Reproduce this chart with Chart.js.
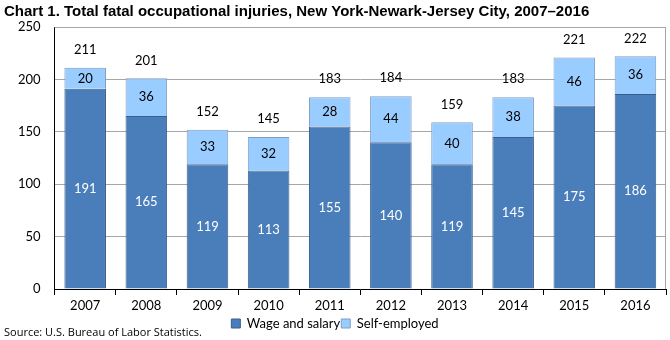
<!DOCTYPE html>
<html><head><meta charset="utf-8">
<script src="https://cdn.jsdelivr.net/npm/chart.js@4"></script>
<style>html,body{margin:0;padding:0;background:#fff}#wrap{width:670px;height:340px;position:relative}</style>
</head><body><div id="wrap"><canvas id="c" width="670" height="340"></canvas></div>
<script>
const years = ['2007','2008','2009','2010','2011','2012','2013','2014','2015','2016'];
const wageAndSalary = [191,165,119,113,155,140,119,145,175,186];
const selfEmployed = [20,36,33,32,28,44,40,38,46,36];
const totals = [211,201,152,145,183,184,159,183,221,222];
const yTicks = [0,50,100,150,200,250];

const labelFont = '13px Lato, "Open Sans", sans-serif';

const labelPlugin = {
  id: 'labels',
  afterDatasetsDraw(chart) {
    const ctx = chart.ctx;
    ctx.save();
    ctx.font = labelFont;
    ctx.textAlign = 'center';
    ctx.textBaseline = 'middle';
    const m0 = chart.getDatasetMeta(0).data;
    const m1 = chart.getDatasetMeta(1).data;
    m0.forEach((b, i) => {
      ctx.fillStyle = '#ffffff';
      ctx.fillText(String(wageAndSalary[i]), b.x, (b.y + b.base) / 2);
    });
    m1.forEach((b, i) => {
      ctx.fillStyle = '#000000';
      ctx.fillText(String(selfEmployed[i]), b.x, (b.y + b.base) / 2);
      ctx.fillText(String(totals[i]), b.x, chart.scales.y.getPixelForValue(totals[i]) - 18);
    });
    ctx.restore();
  },
  beforeDatasetsDraw(chart) {
    const a = chart.chartArea, ctx = chart.ctx;
    ctx.save();
    ctx.strokeStyle = '#a6a6a6';
    ctx.lineWidth = 1;
    ctx.beginPath();
    ctx.moveTo(a.left, a.top + 0.5);
    ctx.lineTo(a.right - 0.5, a.top + 0.5);
    ctx.lineTo(a.right - 0.5, a.bottom);
    ctx.stroke();
    ctx.restore();
  },
  afterDraw(chart) {
    const ctx = chart.ctx;
    ctx.save();
    ctx.font = '11px "Open Sans", sans-serif';
    ctx.fillStyle = '#000';
    ctx.textBaseline = 'middle';
    ctx.textAlign = 'left';
    ctx.fillText('Source: U.S. Bureau of Labor Statistics.', 4, 333);
    ctx.restore();
  }
};

new Chart(document.getElementById('c'), {
  type: 'bar',
  data: {
    labels: years,
    datasets: [
      { label: 'Wage and salary', data: wageAndSalary, backgroundColor: '#4A7EBB', borderColor: '#3A5F8C', borderWidth: 1, barPercentage: 0.68, categoryPercentage: 1 },
      { label: 'Self-employed', data: selfEmployed, backgroundColor: '#99CCFF', borderColor: '#7F9CC2', borderWidth: 1, barPercentage: 0.68, categoryPercentage: 1 }
    ]
  },
  plugins: [labelPlugin],
  options: {
    responsive: false,
    animation: false,
    devicePixelRatio: 1,
    layout: { padding: { left: 4, right: 4, top: 2, bottom: 0 } },
    plugins: {
      title: { display: true, text: 'Chart 1. Total fatal occupational injuries, New York-Newark-Jersey City, 2007–2016', align: 'start', color: '#000', font: { family: '"Liberation Sans", Arial, sans-serif', size: 15, weight: 'bold' }, padding: { top: 1, bottom: 6 } },
      legend: { position: 'bottom', labels: { boxWidth: 9, boxHeight: 9, color: '#000', font: { family: 'Lato, "Open Sans", sans-serif', size: 13 }, padding: 1 } },
      tooltip: { enabled: false }
    },
    scales: {
      x: {
        stacked: true,
        grid: { display: true, offset: true, drawOnChartArea: false, tickLength: 6, color: '#000' },
        border: { color: '#000' },
        ticks: { color: '#000', font: { family: 'Lato, "Open Sans", sans-serif', size: 13, lineHeight: 1 }, padding: 4 }
      },
      y: {
        stacked: true,
        min: 0, max: 250,
        afterBuildTicks(s) { s.ticks = yTicks.map(v => ({ value: v })); },
        grid: { color: '#a6a6a6', drawTicks: false },
        border: { color: '#000' },
        ticks: { color: '#000', font: { family: 'Lato, "Open Sans", sans-serif', size: 13 }, padding: 14 }
      }
    }
  }
});
</script></body></html>
